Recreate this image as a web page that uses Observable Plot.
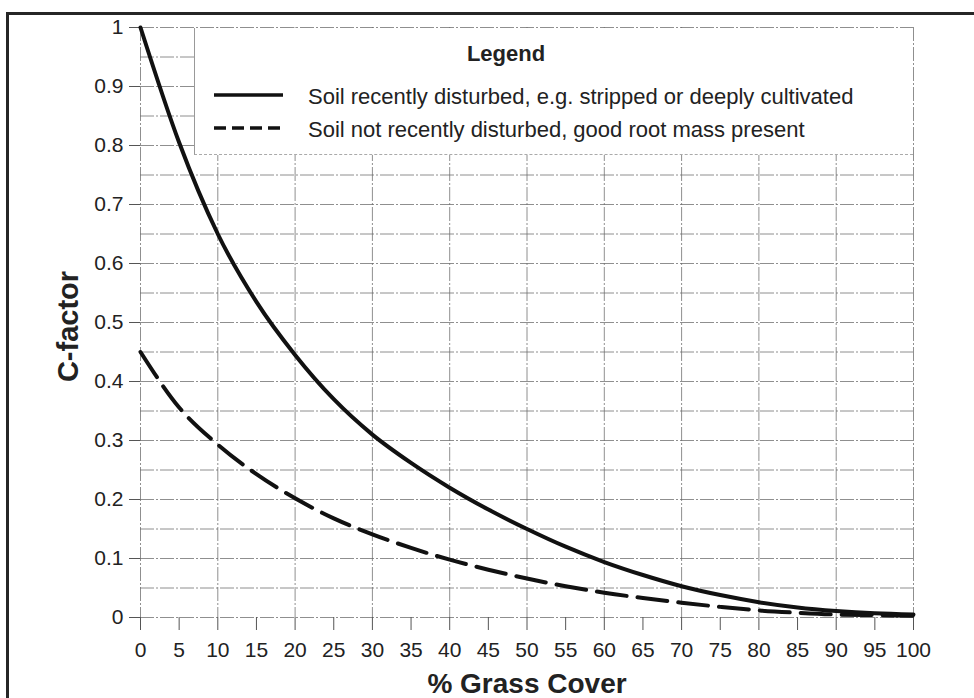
<!DOCTYPE html>
<html>
<head>
<meta charset="utf-8">
<script src="https://cdn.jsdelivr.net/npm/d3@7"></script>
<script src="https://cdn.jsdelivr.net/npm/@observablehq/plot@0.6"></script>
<style>
  html, body { margin: 0; padding: 0; background: #fff; }
  #wrap { position: relative; width: 974px; height: 698px; overflow: hidden; font-family: "Liberation Sans", Arial, sans-serif; }
  #border { position: absolute; left: 6px; top: 12px; width: 1000px; height: 800px; border-left: 3px solid #262626; border-top: 3px solid #262626; pointer-events: none; }
  #legend { position: absolute; left: 194px; top: 28px; width: 718px; height: 126px; background: #fff; border-left: 1px solid #999; border-bottom: 1px dashed #aaa; }
</style>
</head>
<body>
<div id="wrap"></div>
<script>
// ---- data ----
const grassCover = [0, 5, 10, 15, 20, 25, 30, 35, 40, 45, 50, 55, 60, 65, 70, 75, 80, 85, 90, 95, 100];
const disturbed = [1.0, 0.805, 0.65, 0.535, 0.445, 0.37, 0.31, 0.262, 0.22, 0.183, 0.15, 0.12, 0.094, 0.072, 0.053, 0.038, 0.026, 0.017, 0.011, 0.007, 0.005];
const undisturbed = [0.45, 0.356, 0.293, 0.243, 0.202, 0.168, 0.141, 0.118, 0.098, 0.081, 0.066, 0.053, 0.042, 0.033, 0.025, 0.018, 0.012, 0.008, 0.005, 0.004, 0.003];
const seriesNames = ["Soil recently disturbed, e.g. stripped or deeply cultivated", "Soil not recently disturbed, good root mass present"];
const xTicks = [0, 5, 10, 15, 20, 25, 30, 35, 40, 45, 50, 55, 60, 65, 70, 75, 80, 85, 90, 95, 100];
const xGrid = [0, 10, 20, 30, 40, 50, 60, 70, 80, 90, 100];
const yTicks = [0, 0.1, 0.2, 0.3, 0.4, 0.5, 0.6, 0.7, 0.8, 0.9, 1];
const yGrid = [0, 0.05, 0.1, 0.15, 0.2, 0.25, 0.3, 0.35, 0.4, 0.45, 0.5, 0.55, 0.6, 0.65, 0.7, 0.75, 0.8, 0.85, 0.9, 0.95, 1];
const xLabel = "% Grass Cover";
const yLabel = "C-factor";
const legendTitle = "Legend";

const dataDist = grassCover.map((g, i) => ({x: g, y: disturbed[i]}));
const dataUnd = grassCover.map((g, i) => ({x: g, y: undisturbed[i]}));

const gridStyle = {stroke: "#6a6a6a", strokeWidth: 1, strokeOpacity: 0.75, strokeDasharray: "14,2,2,2"};

const chart = Plot.plot({
  width: 974,
  height: 698,
  marginLeft: 140,
  marginRight: 61,
  marginTop: 27,
  marginBottom: 81,
  style: {fontFamily: "'Liberation Sans', Arial, sans-serif", fontSize: "21px", color: "#222", background: "transparent", overflow: "visible"},
  x: {domain: [0, 100]},
  y: {domain: [0, 1]},
  marks: [
    Plot.ruleY(yGrid, gridStyle),
    Plot.ruleX(xGrid, gridStyle),
    Plot.axisX(xTicks, {tickSize: 13, tickPadding: 12, label: null, fontSize: 21, stroke: "#555", tickFormat: d => String(d)}),
    Plot.axisY(yTicks, {tickSize: 11, tickPadding: 6, label: null, fontSize: 21, stroke: "#555", tickFormat: d => String(+d.toFixed(2))}),
    Plot.line(dataUnd, {x: "x", y: "y", curve: "monotone-x", stroke: "#111", strokeWidth: 4, strokeDasharray: "30,11"}),
    Plot.line(dataDist, {x: "x", y: "y", curve: "monotone-x", stroke: "#111", strokeWidth: 4}),
    Plot.text([xLabel], {frameAnchor: "bottom", lineAnchor: "middle", textAnchor: "middle", dy: 67, fontSize: 28, fontWeight: "bold", fill: "#222"}),
    Plot.text([yLabel], {frameAnchor: "left", lineAnchor: "middle", textAnchor: "middle", dx: -72, dy: 4, rotate: -90, fontSize: 29, fontWeight: "bold", fill: "#222"})
  ]
});

const wrap = document.getElementById("wrap");
wrap.appendChild(chart);

// legend box overlay
const leg = document.createElement("div");
leg.id = "legend";
wrap.appendChild(leg);
const ls = d3.select(leg).append("svg").attr("width", 718).attr("height", 126)
  .style("font-family", "'Liberation Sans', Arial, sans-serif");
ls.append("text").attr("x", 311).attr("y", 33).attr("text-anchor", "middle")
  .attr("font-size", 22).attr("font-weight", "bold").attr("fill", "#222").text(legendTitle);
const rows = [{y: 67, dash: null}, {y: 100, dash: "12,6"}];
rows.forEach((r, i) => {
  ls.append("line").attr("x1", 19).attr("x2", 88).attr("y1", r.y).attr("y2", r.y)
    .attr("stroke", "#111").attr("stroke-width", 3.5).attr("stroke-dasharray", r.dash);
  ls.append("text").attr("x", 113).attr("y", r.y + 9).attr("font-size", 22).attr("fill", "#222").text(seriesNames[i]);
});

const border = document.createElement("div");
border.id = "border";
wrap.appendChild(border);
</script>
</body>
</html>
